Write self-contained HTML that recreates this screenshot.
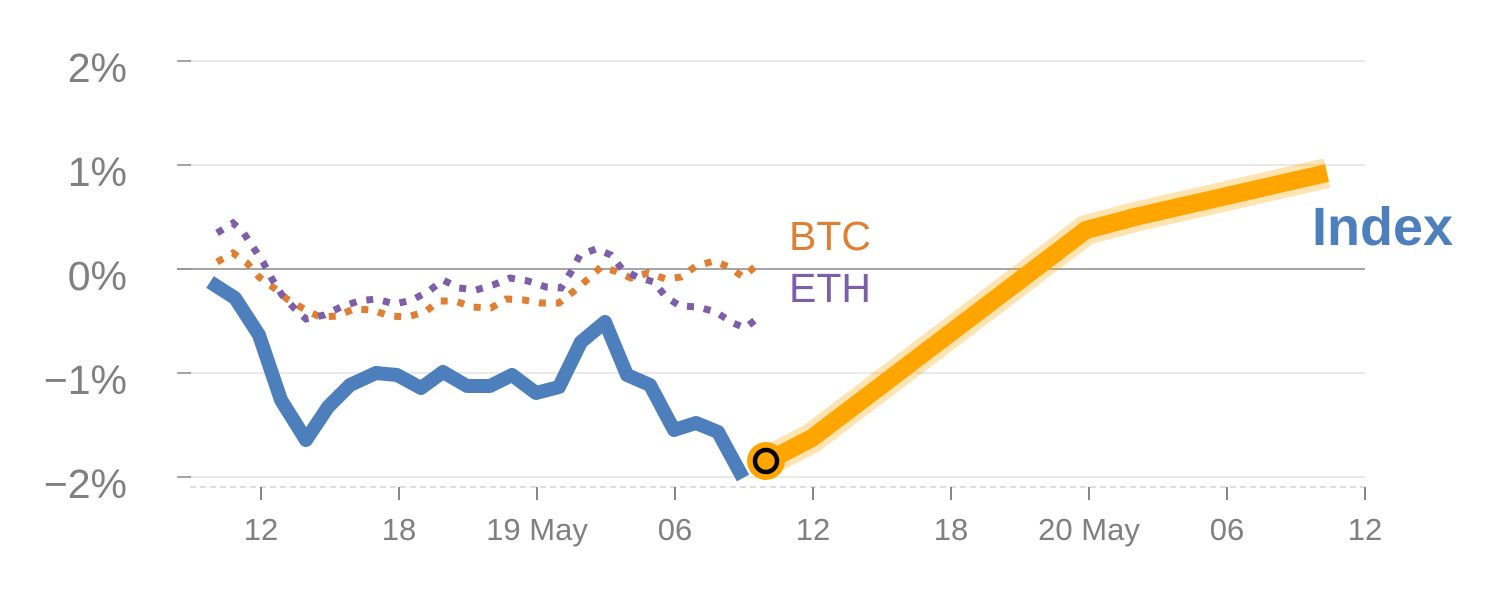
<!DOCTYPE html>
<html><head><meta charset="utf-8"><style>
html,body{margin:0;padding:0;background:#fff;}
svg{display:block;font-family:"Liberation Sans",sans-serif;}
</style></head><body>
<svg width="1500" height="600" viewBox="0 0 1500 600">
<g stroke="#e3e3e3" stroke-width="1.5">
<line x1="190" y1="61" x2="1365" y2="61"/>
<line x1="190" y1="165" x2="1365" y2="165"/>
<line x1="190" y1="373" x2="1365" y2="373"/>
<line x1="190" y1="477" x2="1365" y2="477"/>
</g>
<g stroke="#888" stroke-width="1.5">
<line x1="177" y1="61" x2="191" y2="61"/>
<line x1="177" y1="165" x2="191" y2="165"/>
<line x1="177" y1="269" x2="191" y2="269"/>
<line x1="177" y1="373" x2="191" y2="373"/>
<line x1="177" y1="477" x2="191" y2="477"/>
</g>
<line x1="177" y1="269" x2="1365" y2="269" stroke="#888" stroke-width="1.5"/>
<line x1="190" y1="487" x2="1365" y2="487" stroke="#ddd" stroke-width="2" stroke-dasharray="6 4"/>
<g stroke="#888" stroke-width="2">
<line x1="261" y1="487" x2="261" y2="500"/><line x1="399" y1="487" x2="399" y2="500"/>
<line x1="537" y1="487" x2="537" y2="500"/><line x1="675" y1="487" x2="675" y2="500"/>
<line x1="813" y1="487" x2="813" y2="500"/><line x1="951" y1="487" x2="951" y2="500"/>
<line x1="1089" y1="487" x2="1089" y2="500"/><line x1="1227" y1="487" x2="1227" y2="500"/>
<line x1="1365" y1="487" x2="1365" y2="500"/>
</g>
<g fill="#808080" font-size="41" text-anchor="end">
<text x="127" y="82">2%</text><text x="127" y="186">1%</text><text x="127" y="290">0%</text>
<text x="127" y="394">−1%</text><text x="127" y="498">−2%</text>
</g>
<g fill="#808080" font-size="31" text-anchor="middle">
<text x="261" y="540">12</text><text x="399" y="540">18</text><text x="537" y="540">19 May</text>
<text x="675" y="540">06</text><text x="813" y="540">12</text><text x="951" y="540">18</text>
<text x="1089" y="540">20 May</text><text x="1227" y="540">06</text><text x="1365" y="540">12</text>
</g>
<polyline fill="none" stroke="#de7f33" stroke-width="7" stroke-dasharray="7 10" points="217,262 233,253 247,263 259,277 274,288 287,299 304,309 320,317 337,316 354,309 373,310 389,316 407,317 425,312 439,301 455,301 472,307 491,308 506,299 524,300 541,303 559,303 574,291 588,279 601,267 615,271 631,278 648,273 666,279 681,277 696,266 714,261 729,267 743,277 758,264"/>
<polyline fill="none" stroke="#7d5ea8" stroke-width="7" stroke-dasharray="7 10" points="217,233 233,223 243,232 253,247 263,262 272,279 282,295 294,308 306,319 324,315 341,307 359,301 376,299 395,304 412,300 429,291 443,280 459,288 476,290 493,285 510,278 528,281 546,287 561,288 571,272 580,255 596,249 611,255 622,269 637,277 654,282 666,297 680,306 698,307 716,312 731,322 745,328 759,317"/>
<polyline fill="none" stroke="#4e7fbd" stroke-width="14" stroke-linejoin="round" points="210,282 235,298 259,335 281,400 306,440 328,407 350,385 376,373 397,375 421,388 443,372 467,386 490,386 512,375 536,393 559,387 581,342 605,322 627,375 650,385 674,430 696,423 718,432 743,478"/>
<polyline fill="none" stroke="#ffa500" stroke-opacity="0.3" stroke-width="30" points="766,462 812,438 1086,230 1135,217 1327,173"/>
<polyline fill="none" stroke="#ffa500" stroke-width="18" points="766,462 812,438 1086,230 1135,217 1327,173"/>
<circle cx="766" cy="461" r="19" fill="#ffa500"/>
<circle cx="766" cy="461" r="11" fill="none" stroke="#000" stroke-width="4.5"/>
<text x="789" y="250" font-size="41" fill="#de7f33">BTC</text>
<text x="789" y="302" font-size="41" fill="#7d5ea8">ETH</text>
<text x="1312" y="245" font-size="54" font-weight="bold" fill="#4e7fbd">Index</text>
</svg>
</body></html>
